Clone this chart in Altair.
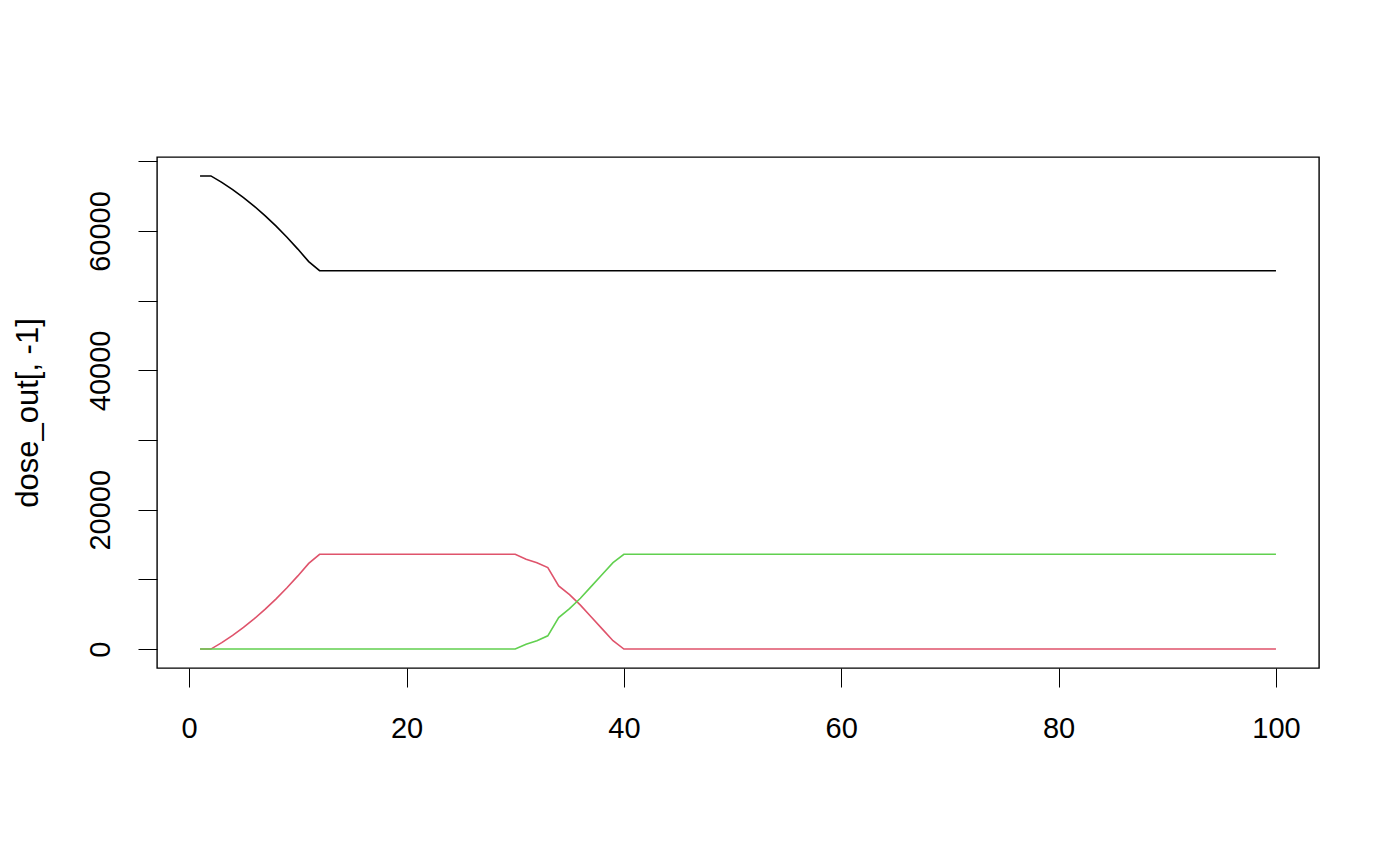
import altair as alt
import pandas as pd

x_vals = list(range(1, 101))

# red series (column 2)
red_head = [0, 0, 930, 1960, 3110, 4370, 5730, 7210, 8800, 10500, 12300, 13600]  # x = 1..12
red_mid_value = 13600  # x = 13..30
red_fall = [12900, 12400, 11700, 9070, 7800, 6300, 4600, 2900, 1200, 0]  # x = 31..40
red_tail_value = 0  # x = 41..100

# black series (column 1)
black_head = [67900, 67900, 66970, 65940, 64790, 63530, 62170, 60690, 59100, 57400, 55600, 54300]  # x = 1..12
black_tail_value = 54300  # x = 13..100

# green series (column 3)
green_zero_value = 0  # x = 1..30
green_rise = [700, 1200, 1900, 4530, 5800, 7300, 9000, 10700, 12400, 13600]  # x = 31..40
green_tail_value = 13600  # x = 41..100

red = red_head + [red_mid_value] * 18 + red_fall + [red_tail_value] * 60
black = black_head + [black_tail_value] * 88
green = [green_zero_value] * 30 + green_rise + [green_tail_value] * 60

x_ticks = [0, 20, 40, 60, 80, 100]
y_ticks = [0, 10000, 20000, 30000, 40000, 50000, 60000, 70000]

series_names = ["c1", "c2", "c3"]
series_colors = ["#000000", "#DF536B", "#61D04F"]

rows = []
for name, vals in zip(series_names, [black, red, green]):
    for xv, yv in zip(x_vals, vals):
        rows.append({"x": xv, "value": yv, "series": name})
df = pd.DataFrame(rows)

FONT = "Liberation Sans"
FS = 29

chart = alt.Chart(df).mark_line(strokeWidth=1.6, clip=True).encode(
    x=alt.X(
        "x:Q",
        scale=alt.Scale(domain=[-2.96, 103.96], nice=False, zero=False),
        axis=alt.Axis(
            values=x_ticks,
            title=None,
            domain=False,
            grid=False,
            ticks=True,
            tickSize=19,
            tickColor="black",
            tickWidth=1,
            labelFont=FONT,
            labelFontSize=FS,
            labelColor="black",
            labelBaseline="middle",
            labelAlign="center",
            labelPadding=41,
            format="d",
            labelFlush=False,
            labelOverlap=False,
        ),
    ),
    y=alt.Y(
        "value:Q",
        scale=alt.Scale(domain=[-2716, 70616], nice=False, zero=False),
        axis=alt.Axis(
            values=y_ticks,
            title="dose_out[, -1]",
            titleFont=FONT,
            titleFontSize=31,
            titleFontWeight="normal",
            titleColor="black",
            titleAngle=270,
            titleAlign="center",
            titleBaseline="middle",
            titleX=-129,
            titleY=255.5,
            domain=False,
            grid=False,
            tickSize=19,
            tickColor="black",
            tickWidth=1,
            labelFont=FONT,
            labelFontSize=FS,
            labelColor="black",
            labelAngle=270,
            labelAlign="center",
            labelBaseline="middle",
            labelPadding=38,
            labelExpr="datum.value % 20000 == 0 ? format(datum.value, 'd') : ''",
            labelFlush=False,
            labelOverlap=False,
        ),
    ),
    color=alt.Color(
        "series:N",
        scale=alt.Scale(domain=series_names, range=series_colors),
        legend=None,
    ),
).properties(
    width=1162,
    height=511,
    autosize=alt.AutoSizeParams(type="none"),
    padding={"left": 157, "top": 157, "right": 81, "bottom": 197},
    background="white",
).configure_view(
    stroke="black",
    strokeWidth=1.4,
    fill="white",
)

chart.save("out.html", embed_options={"renderer": "svg", "actions": False})
